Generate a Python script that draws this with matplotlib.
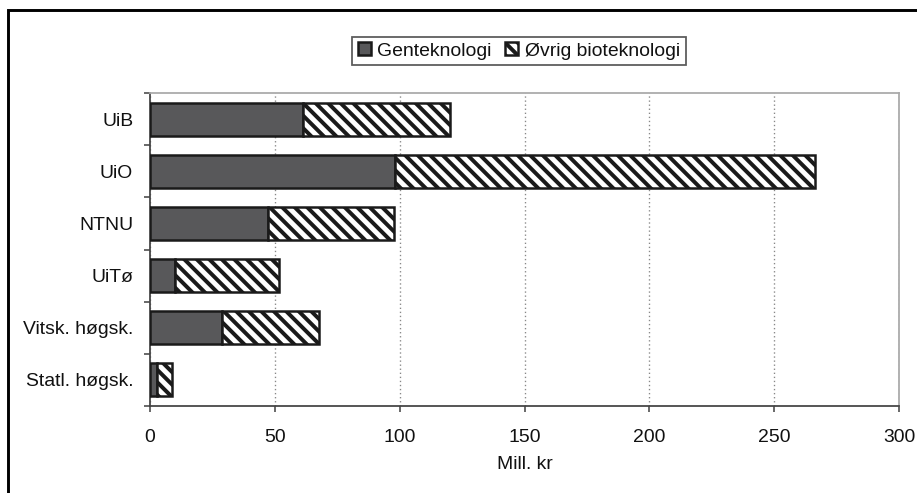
import matplotlib
matplotlib.use("Agg")
import matplotlib.pyplot as plt
from matplotlib.lines import Line2D
import numpy as np

categories = ["UiB", "UiO", "NTNU", "UiTø", "Vitsk. høgsk.", "Statl. høgsk."]
genteknologi = [61.4, 98.1, 47.4, 10.0, 28.7, 2.7]
ovrig_bio = [58.8, 168.2, 50.3, 41.7, 39.1, 6.1]
xticks = [0, 50, 100, 150, 200, 250, 300]
series_names = ["Genteknologi", "Øvrig bioteknologi"]
xlabel = "Mill. kr"

DPI = 150
FS = 9.3
plt.rcParams['font.family'] = ['Liberation Sans', 'DejaVu Sans']
plt.rcParams['hatch.linewidth'] = 1.9
plt.rcParams['hatch.color'] = 'black'

fig = plt.figure(figsize=(917 / DPI, 493 / DPI), dpi=DPI)
ax = fig.add_axes([150 / 917, 1 - 406 / 493, (899 - 150) / 917, (406 - 93) / 493])

y = np.arange(len(categories))
h = 0.63
ax.barh(y, genteknologi, height=h, color='#58585a', edgecolor='#1a1a1a',
        linewidth=1.2, label=series_names[0], zorder=3)
ax.barh(y, ovrig_bio, left=genteknologi, height=h, color='white',
        edgecolor='#1a1a1a', hatch='\\\\\\\\', linewidth=1.2,
        label=series_names[1], zorder=3)

ax.set_xlim(0, 300)
ax.set_ylim(len(categories) - 0.5, -0.5)
ax.set_xticks(xticks)
ax.set_xticklabels([str(t) for t in xticks], fontsize=FS, color='#111111')
ax.set_yticks(y)
ax.set_yticklabels(categories, fontsize=FS, color='#111111')
ax.set_yticks(np.arange(-0.5, len(categories)), minor=True)
ax.tick_params(axis='y', which='major', length=0, pad=8.1)
ax.tick_params(axis='y', which='minor', length=2.8, width=0.75, color='#444444', direction='out')
ax.tick_params(axis='x', which='major', length=2.8, width=0.75, color='#444444', pad=8.4)
ax.set_xlabel(xlabel, fontsize=FS, color='#111111', labelpad=4.8)

ax.grid(axis='x', color='#888888', linestyle=(0, (1, 2)), linewidth=0.65, zorder=0)
ax.set_axisbelow(True)
for s in ['left', 'bottom']:
    ax.spines[s].set_color('#444444')
    ax.spines[s].set_linewidth(0.85)
for s in ['top', 'right']:
    ax.spines[s].set_color('#aaaaaa')
    ax.spines[s].set_linewidth(0.85)

leg = fig.legend(loc='center', bbox_to_anchor=(519 / 917, 1 - 51 / 493), ncol=2,
                 fontsize=FS, frameon=True, fancybox=False, edgecolor='#333333',
                 handlelength=0.65, handleheight=0.65, handletextpad=0.35,
                 columnspacing=0.7, borderpad=0.3)
leg.get_frame().set_linewidth(0.85)
for t in leg.get_texts():
    t.set_color('#111111')

# outer border (left and top only)
x0 = 8 / 917
y0 = 1 - 10 / 493
fig.add_artist(Line2D([x0, x0, 1.0], [0.0, y0, y0], transform=fig.transFigure,
                      color='black', linewidth=1.4, solid_joinstyle='miter'))

fig.savefig("out.png", dpi=DPI)
